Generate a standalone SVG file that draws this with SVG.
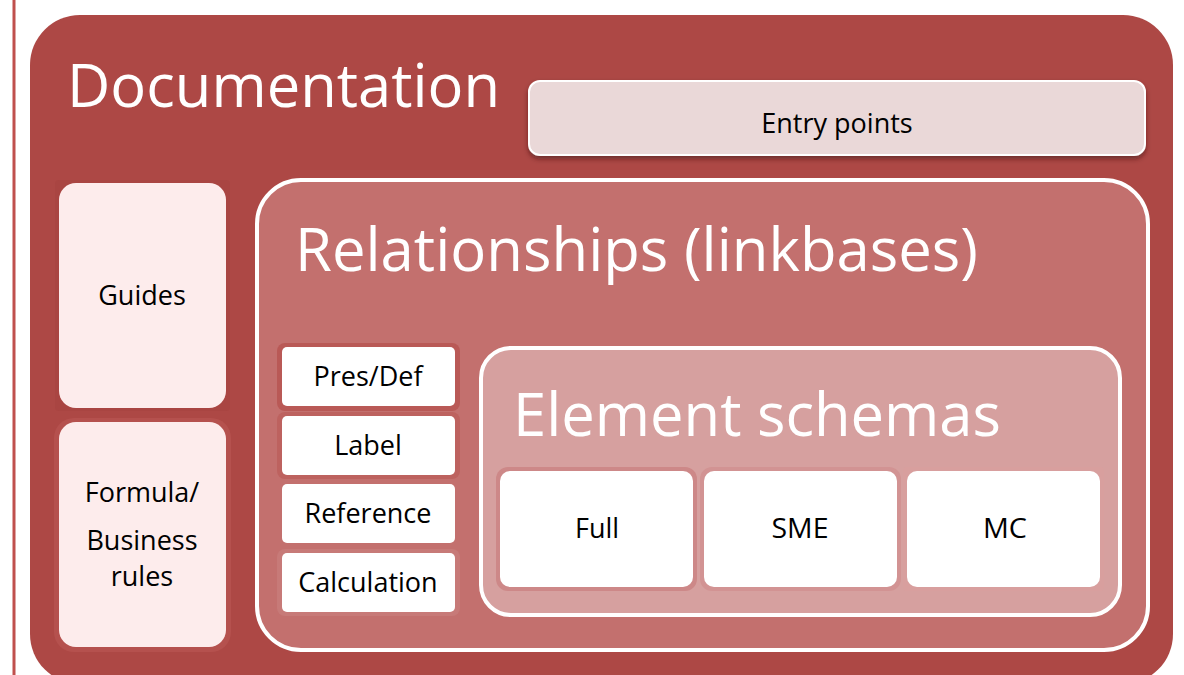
<svg xmlns="http://www.w3.org/2000/svg" width="1184" height="675" viewBox="0 0 1184 675">
  <defs>
    <filter id="shadow" x="-5%" y="-20%" width="110%" height="150%">
      <feDropShadow dx="0" dy="3" stdDeviation="2.5" flood-color="#3a0d0c" flood-opacity="0.55"/>
    </filter>
  </defs>
  <style>
    .title { font-family: "Open Sans", "Noto Sans", sans-serif; font-size: 60px; fill: #ffffff; }
    .lbl { font-family: "Open Sans", "Noto Sans", sans-serif; font-size: 27px; fill: #000000; text-anchor: middle; }
    .cond { font-family: "Open Sans", "Noto Sans", sans-serif; font-size: 27px; fill: #000000; text-anchor: middle; }
    .whitebox { fill: #ffffff; }
    .pinkbox { fill: #fdecec; }
  </style>

  <rect width="1184" height="675" fill="#ffffff"/>
  <!-- margin rule on the left -->
  <rect x="12.5" y="0" width="3" height="675" fill="#c0504d"/>

  <g id="documentation">
    <rect x="30" y="15" width="1143" height="669" rx="50" fill="#ad4845"/>
    <text class="title" x="67" y="107" textLength="433" lengthAdjust="spacingAndGlyphs">Documentation</text>
  </g>

  <g id="entry-points">
    <rect x="529" y="81" width="616" height="74" rx="11" fill="#ead8d8" stroke="#ffffff" stroke-width="2" filter="url(#shadow)"/>
    <text class="lbl" x="837" y="133">Entry points</text>
  </g>

  <g id="guides">
    <rect x="55" y="180" width="175" height="231" rx="4" fill="#a94542"/>
    <rect class="pinkbox" x="59" y="183" width="167" height="225" rx="17"/>
    <text class="lbl" x="142" y="305">Guides</text>
  </g>

  <g id="formula">
    <rect x="54" y="418" width="177" height="234" rx="20" fill="#b5514e"/>
    <rect class="pinkbox" x="59" y="422" width="167" height="225" rx="17"/>
    <text class="lbl" x="142" y="502">Formula/</text>
    <text class="lbl" x="142" y="550">Business</text>
    <text class="lbl" x="142" y="586">rules</text>
  </g>

  <g id="relationships">
    <rect x="257" y="180" width="891" height="470" rx="44" fill="#c3706e" stroke="#ffffff" stroke-width="4"/>
    <text class="title" x="295" y="271" textLength="683" lengthAdjust="spacingAndGlyphs">Relationships (linkbases)</text>
  </g>

  <g id="pres-def">
    <rect x="277" y="343" width="183" height="68" rx="8" fill="#b95956"/>
    <rect class="whitebox" x="282" y="347" width="173" height="59" rx="5"/>
    <text class="lbl" x="368" y="386">Pres/Def</text>
  </g>

  <g id="label">
    <rect x="277" y="412" width="183" height="67" rx="8" fill="#bd625f"/>
    <rect class="whitebox" x="282" y="416" width="173" height="59" rx="5"/>
    <text class="lbl" x="368" y="455">Label</text>
  </g>

  <g id="reference">
    <rect class="whitebox" x="282" y="484" width="173" height="59" rx="5"/>
    <text class="lbl" x="368" y="523">Reference</text>
  </g>

  <g id="calculation">
    <rect x="277" y="549" width="183" height="67" rx="8" fill="#c77a78"/>
    <rect class="whitebox" x="282" y="553" width="173" height="59" rx="5"/>
    <text class="lbl" x="368" y="592">Calculation</text>
  </g>

  <g id="element-schemas">
    <rect x="481" y="348" width="639" height="267" rx="30" fill="#d6a09f" stroke="#ffffff" stroke-width="4"/>
    <text class="title" x="513" y="436" textLength="488" lengthAdjust="spacingAndGlyphs">Element schemas</text>
  </g>

  <g id="full">
    <rect x="496" y="467" width="201" height="124" rx="12" fill="#cd8888"/>
    <rect class="whitebox" x="500" y="471" width="193" height="116" rx="10"/>
    <text class="cond" x="597" y="538" textLength="44" lengthAdjust="spacingAndGlyphs">Full</text>
  </g>

  <g id="sme">
    <rect x="700" y="467" width="201" height="124" rx="12" fill="#d29393"/>
    <rect class="whitebox" x="704" y="471" width="193" height="116" rx="10"/>
    <text class="cond" x="800" y="538" textLength="57" lengthAdjust="spacingAndGlyphs">SME</text>
  </g>

  <g id="mc">
    <rect x="903" y="467" width="201" height="124" rx="4" fill="#d89f9e"/>
    <rect class="whitebox" x="907" y="471" width="193" height="116" rx="10"/>
    <text class="cond" x="1005" y="538" textLength="44" lengthAdjust="spacingAndGlyphs">MC</text>
  </g>

  <g id="connectors"/>
</svg>
